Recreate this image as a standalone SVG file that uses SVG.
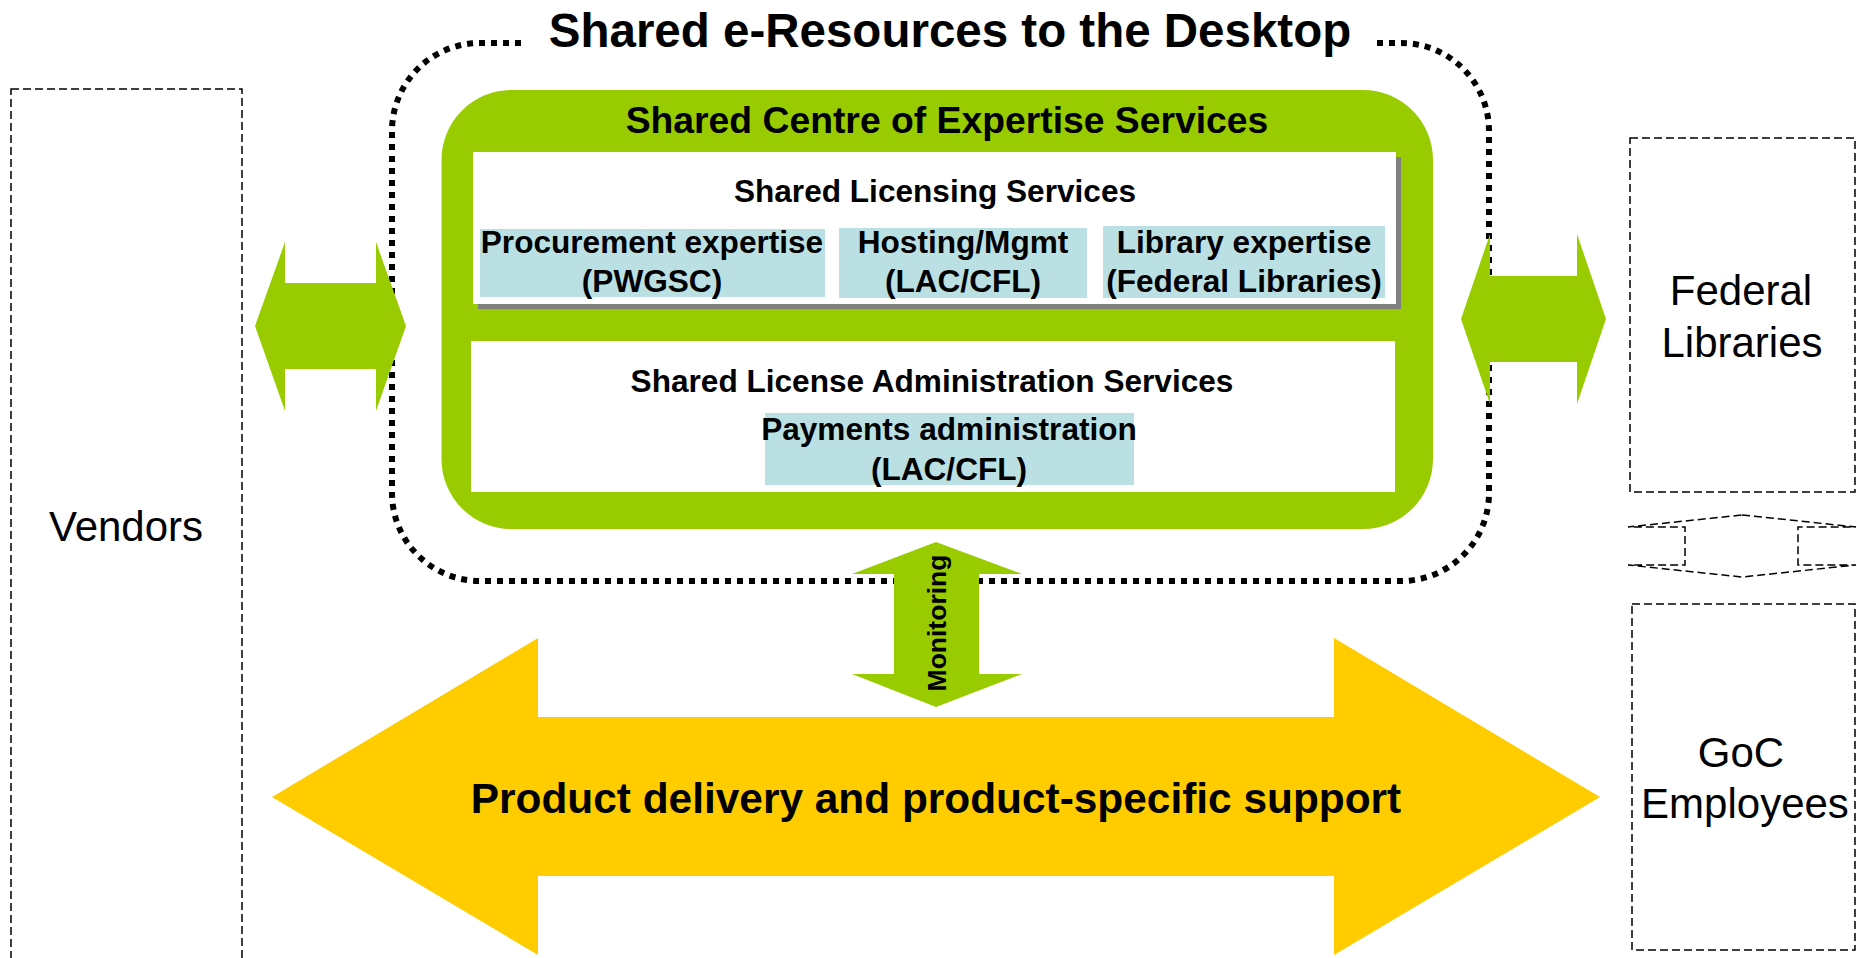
<svg xmlns="http://www.w3.org/2000/svg" width="1857" height="958" viewBox="0 0 1857 958">
<defs>
<style>
text{font-family:"Liberation Sans",Arial,Helvetica,sans-serif;fill:#000}
.b{font-weight:bold}
.dash{fill:none;stroke:#000;stroke-width:1.5;stroke-dasharray:8 4}
.dot{fill:none;stroke:#000;stroke-width:6;stroke-dasharray:6 6}
.green{fill:#99CC00}
.yellow{fill:#FFCC00}
.blue{fill:#BBE0E3}
.white{fill:#fff}
.shadow{fill:#808080}
.lbl{font-size:42px;text-anchor:middle}
.sub{font-size:31.6px;font-weight:bold;text-anchor:middle}
</style>
</defs>
<rect width="1857" height="958" fill="#fff"/>

<g id="vendors">
<rect class="dash" x="11" y="89" width="231" height="900"/>
<text class="lbl" x="126" y="541">Vendors</text>
</g>

<g id="federal-libraries">
<rect class="dash" x="1630" y="138" width="225" height="354"/>
<text class="lbl" x="1741" y="305">Federal</text>
<text class="lbl" x="1742" y="357">Libraries</text>
</g>

<g id="goc-employees">
<rect class="dash" x="1632" y="604" width="223" height="346"/>
<text class="lbl" x="1741" y="767">GoC</text>
<text class="lbl" x="1745" y="818">Employees</text>
</g>

<g id="shared-e-resources">
<path class="dot" d="M1377,43 H1401 A88,88 0 0 1 1489,131 V493 A88,88 0 0 1 1401,581 H480 A88,88 0 0 1 392,493 V131 A88,88 0 0 1 480,43 H524"/>
<text class="b" x="950" y="47" font-size="47.5" text-anchor="middle">Shared e-Resources to the Desktop</text>
</g>

<g id="centre-of-expertise">
<rect class="green" x="441.5" y="90" width="991.5" height="439" rx="70" ry="70"/>
<text class="b" x="947" y="133" font-size="37.3" text-anchor="middle">Shared Centre of Expertise Services</text>
</g>

<g id="licensing-services">
<rect class="shadow" x="478" y="157" width="923" height="152"/>
<rect class="white" x="473" y="152" width="923" height="152"/>
<text class="sub" x="935" y="202">Shared Licensing Services</text>
</g>

<g id="procurement">
<rect class="blue" x="480" y="229" width="345" height="68"/>
<text class="sub" x="652" y="253">Procurement expertise</text>
<text class="sub" x="652" y="292">(PWGSC)</text>
</g>

<g id="hosting">
<rect class="blue" x="839" y="228" width="248" height="70"/>
<text class="sub" x="963" y="253">Hosting/Mgmt</text>
<text class="sub" x="963" y="292">(LAC/CFL)</text>
</g>

<g id="library-expertise">
<rect class="blue" x="1103" y="226" width="282" height="72"/>
<text class="sub" x="1244" y="253">Library expertise</text>
<text class="sub" x="1244" y="292">(Federal Libraries)</text>
</g>

<g id="admin-services">
<rect class="white" x="471" y="341" width="924" height="151"/>
<text class="sub" x="932" y="392">Shared License Administration Services</text>
</g>

<g id="payments">
<rect class="blue" x="765" y="413" width="369" height="72"/>
<text class="sub" x="949" y="440">Payments administration</text>
<text class="sub" x="949" y="480">(LAC/CFL)</text>
</g>

<g id="connectors">
<polygon class="green" points="255,326 285,242 285,283 376,283 376,242 406,326 376,411 376,369 285,369 285,411"/>
<polygon class="green" points="1461,319 1490,234 1490,276 1577,276 1577,234 1606,319 1577,404 1577,362 1490,362 1490,404"/>
<polygon class="green" points="936,542 1022,574 979,574 979,674 1022,674 936,707 852,674 894,674 894,574 852,574"/>
<text class="b" font-size="26.5" text-anchor="middle" transform="translate(946,623) rotate(-90)">Monitoring</text>
<polygon class="yellow" points="272,797 538,638 538,717 1334,717 1334,638 1600,797 1334,955 1334,876 538,876 538,955"/>
<text class="b" x="936" y="813" font-size="42.4" text-anchor="middle">Product delivery and product-specific support</text>
<polygon class="dash" points="1742,515 1856,527 1798,527 1798,565 1856,565 1742,577 1628,565 1685,565 1685,527 1628,527"/>
</g>
</svg>
